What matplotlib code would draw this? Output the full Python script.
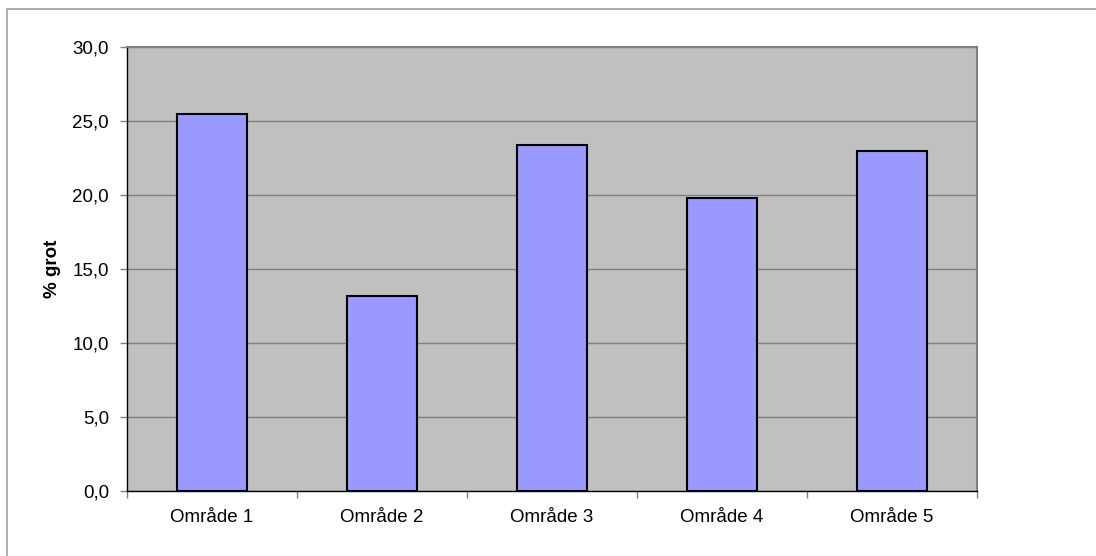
import matplotlib
matplotlib.use("Agg")
import matplotlib.pyplot as plt
from matplotlib.patches import Rectangle
from matplotlib.ticker import MultipleLocator, FuncFormatter

plt.rcParams['font.family'] = ['Liberation Sans', 'DejaVu Sans']

categories = ["Område 1", "Område 2", "Område 3", "Område 4", "Område 5"]
values = [25.5, 13.2, 23.4, 19.8, 23.0]
ylabel = "% grot"

W, H = 1096, 556
fig = plt.figure(figsize=(W / 100, H / 100), dpi=100)
fig.patch.set_facecolor("white")

# outer chart frame
fig.add_artist(Rectangle((7 / W, -0.1), 1.2, 1 - 9 / H + 0.1,
                         transform=fig.transFigure, fill=False,
                         edgecolor="#a0a0a0", linewidth=1.2))

ax = fig.add_axes([127 / W, (H - 491) / H, 850 / W, 444 / H])
ax.set_facecolor("#c0c0c0")

x = list(range(len(categories)))
ax.bar(x, values, width=0.41, color="#9999ff", edgecolor="black",
       linewidth=1.5, zorder=3)

ax.set_xlim(-0.5, len(categories) - 0.5)
ax.set_ylim(0, 30)
ax.yaxis.set_major_locator(MultipleLocator(5))
ax.yaxis.set_major_formatter(FuncFormatter(lambda v, p: f"{v:.1f}".replace(".", ",")))
ax.grid(axis="y", color="#808080", linewidth=1, zorder=1)

ax.set_xticks([i + 0.5 for i in range(-1, len(categories))], minor=False)
ax.set_xticklabels([])
ax.set_xticks(x, minor=True)
ax.set_xticklabels(categories, minor=True, fontsize=13.5)
ax.tick_params(axis="x", which="major", direction="out", length=5,
               color="#808080", width=1)
ax.tick_params(axis="x", which="minor", length=0, pad=13)
ax.tick_params(axis="y", direction="out", length=5, color="#808080",
               width=1, labelsize=13.5, pad=8)

for side in ("top", "right"):
    ax.spines[side].set_color("#808080")
    ax.spines[side].set_linewidth(1.5)
for side in ("left", "bottom"):
    ax.spines[side].set_color("black")
    ax.spines[side].set_linewidth(1)

ax.set_ylabel(ylabel, fontsize=13.5, fontweight="bold", labelpad=8)

fig.savefig("out.png", dpi=100)
